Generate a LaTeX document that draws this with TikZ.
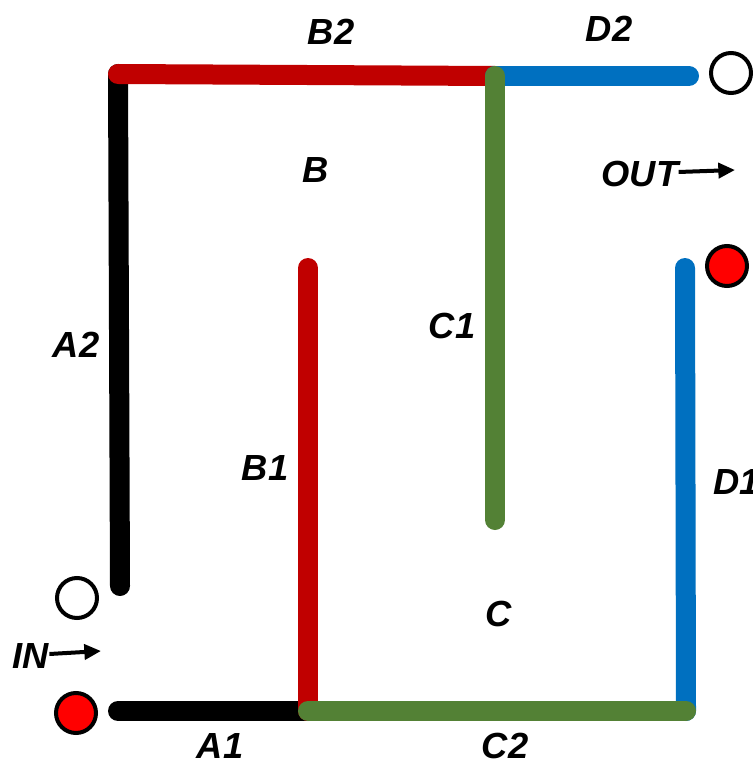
\documentclass[tikz,border=0pt]{standalone}
\usepackage{fontspec}
\setmainfont{Liberation Sans}
\usepackage{tikz}
\usetikzlibrary{positioning,calc,arrows.meta}

\definecolor{segred}{HTML}{C00000}
\definecolor{segblue}{HTML}{0070C0}
\definecolor{seggreen}{HTML}{538135}
\definecolor{dotred}{HTML}{FF0000}

\tikzset{
    seg/.style={line width=0.6cm, line cap=round},
    lbl/.style={font=\fontsize{31}{31}\selectfont\bfseries\itshape, inner sep=0pt},
    term/.style={circle, draw=black, line width=0.12cm, minimum size=1.2cm, inner sep=0pt},
    flow/.style={line width=0.12cm, -{Triangle[length=0.5cm, width=0.45cm]}}
}

\begin{document}
\begin{tikzpicture}[x=0.03cm, y=-0.03cm]
    \useasboundingbox (0,0) rectangle (752,763);

    % corner points of the segments
    \coordinate (a1s) at (118,711);
    \coordinate (a2b) at (120,586);
    \coordinate (tl) at (118,74);
    \coordinate (tm) at (495,76);
    \coordinate (tr) at (689,76);
    \coordinate (b1t) at (308,268);
    \coordinate (bm) at (308,711);
    \coordinate (c1b) at (495,520);
    \coordinate (br) at (686,711);
    \coordinate (d1t) at (685,268);

    % A1, A2
    \draw[seg, black] (a1s) -- (bm);
    \draw[seg, black] (tl) -- (a2b);

    % B1, B2
    \draw[seg, segred] (b1t) -- (bm);
    \draw[seg, segred] (tl) -- (tm);

    % D1, D2
    \draw[seg, segblue] (tm) -- (tr);
    \draw[seg, segblue] (d1t) -- (br);

    % C1, C2
    \draw[seg, seggreen] (tm) -- (c1b);
    \draw[seg, seggreen] (bm) -- (br);

    % terminals
    \node[term, fill=white] (inopen) at (77,598) {};
    \node[term, fill=dotred] (inred) at (76,713) {};
    \node[term, fill=white] (outopen) at (731,73) {};
    \node[term, fill=dotred] (outred) at (727,266) {};

    % labels
    \node[lbl] (lA1) at (220,746) {A1};
    \node[lbl] (lA2) at (76,345) {A2};
    \node[lbl] (lB1) at (265,468) {B1};
    \node[lbl] (lB2) at (331,32) {B2};
    \node[lbl] (lC1) at (452,326) {C1};
    \node[lbl] (lC2) at (505,746) {C2};
    \node[lbl, anchor=west] (lD1) at (713,482) {D1};
    \node[lbl] (lD2) at (609,29) {D2};
    \node[lbl] (lB) at (316,170) {B};
    \node[lbl] (lC) at (499,614) {C};

    % in / out
    \node[lbl] (lIN) at (31,656) {IN};
    \coordinate (inend) at (101,651);
    \draw[flow] (lIN.east) ++(0,-2) -- (inend);
    \node[lbl] (lOUT) at (640,174) {OUT};
    \coordinate (outend) at (735,170);
    \draw[flow] (lOUT.east) ++(0,-2) -- (outend);
\end{tikzpicture}
\end{document}
